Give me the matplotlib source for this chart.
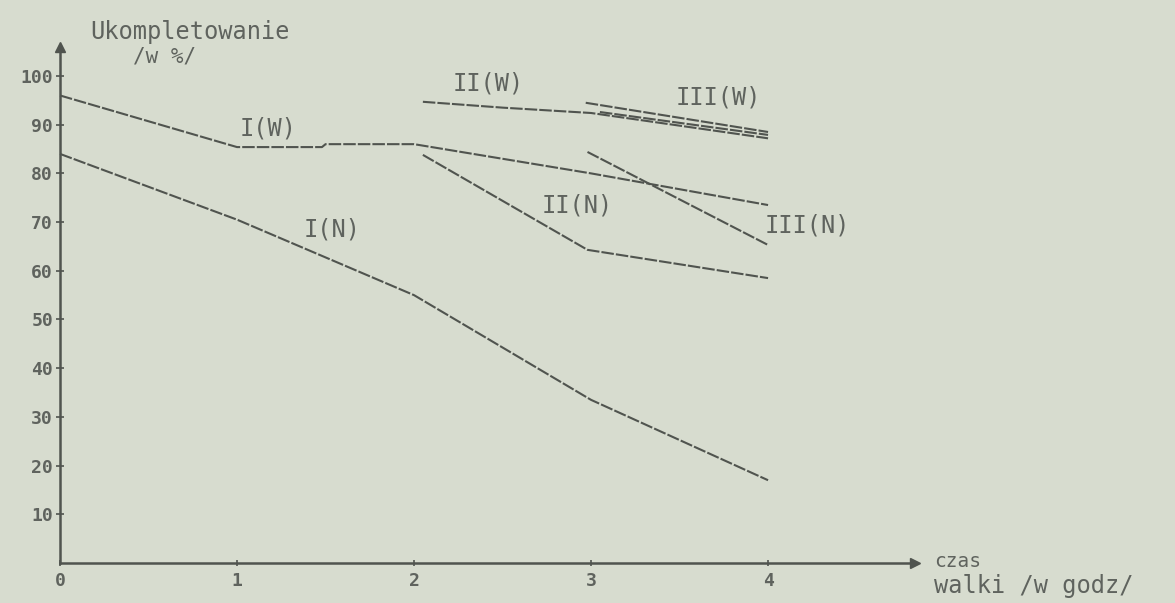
import matplotlib
matplotlib.use('Agg')
import matplotlib.pyplot as plt

# data (x = czas walki in hours, y = ukompletowanie in %)
x_IW = [0, 1, 1.48, 1.5, 2, 3, 4]
y_IW = [96, 85.4, 85.4, 86, 86, 80, 73.5]

x_IN = [0, 1, 2, 3, 4]
y_IN = [84, 70.5, 55, 33.5, 17]

x_IIW = [2.05, 2.5, 3.0, 4]
y_IIW = [94.7, 93.5, 92.4, 87.2]

x_IIN = [2.05, 2.98, 4]
y_IIN = [83.8, 64.3, 58.5]

x_IIIW = [2.97, 4]
y_IIIW = [94.5, 88.5]
x_IIIW2 = [3.05, 4]
y_IIIW2 = [92.6, 87.9]

x_IIIN = [2.98, 4]
y_IIIN = [84.4, 65.3]

yticks = [10, 20, 30, 40, 50, 60, 70, 80, 90, 100]
xticks = [0, 1, 2, 3, 4]

bg = '#d7dccf'
ink = '#50544f'
txt = '#5f635e'
mono = 'DejaVu Sans Mono'

fig = plt.figure(figsize=(11.75, 6.03), dpi=100)
fig.patch.set_facecolor(bg)
ax = fig.add_axes([0, 0, 1, 1])
ax.set_facecolor(bg)
ax.set_xlim(-0.339, 6.299)
ax.set_ylim(-8.21, 115.6)

ls = (0, (6, 1))
for xs, ys in [(x_IW, y_IW), (x_IN, y_IN), (x_IIW, y_IIW), (x_IIN, y_IIN),
               (x_IIIW, y_IIIW), (x_IIIW2, y_IIIW2), (x_IIIN, y_IIIN)]:
    ax.plot(xs, ys, color=ink, lw=1.5, ls=ls)

# axes with arrows
for s in ['top', 'right']:
    ax.spines[s].set_visible(False)
ax.spines['left'].set_position(('data', 0))
ax.spines['bottom'].set_position(('data', 0))
ax.spines['left'].set_bounds(0, 106)
ax.spines['bottom'].set_bounds(0, 4.83)
for s in ['left', 'bottom']:
    ax.spines[s].set_color(ink)
    ax.spines[s].set_linewidth(1.8)
ax.plot([0], [106], marker='^', color=ink, ms=7, clip_on=False)
ax.plot([4.83], [0], marker='>', color=ink, ms=7, clip_on=False)

ax.set_yticks(yticks)
ax.set_yticklabels([str(v) for v in yticks])
ax.set_xticks(xticks)
ax.set_xticklabels([str(v) for v in xticks])
ax.tick_params(axis='y', direction='inout', length=6, width=1.2, colors=ink,
               labelcolor=txt, labelsize=13, pad=2)
ax.tick_params(axis='x', direction='inout', length=5, width=1.2, colors=ink,
               labelcolor=txt, labelsize=13, pad=4)
for lab in ax.get_xticklabels() + ax.get_yticklabels():
    lab.set_family(mono)
    lab.set_fontweight('bold')

ax.text(0.17, 109, 'Ukompletowanie', family=mono, fontsize=17, color=txt, va='center')
ax.text(0.41, 104, '/w %/', family=mono, fontsize=15, color=txt, va='center')

lab_kw = dict(family=mono, fontsize=17, color=txt, ha='center', va='center')
ax.text(1.175, 89.3, 'I(W)', **lab_kw)
ax.text(2.42, 98.4, 'II(W)', **lab_kw)
ax.text(3.72, 95.5, 'III(W)', **lab_kw)
ax.text(2.92, 73.5, 'II(N)', **lab_kw)
ax.text(4.22, 69.4, 'III(N)', **lab_kw)
ax.text(1.54, 68.4, 'I(N)', **lab_kw)

ax.text(4.94, 0.4, 'czas', family=mono, fontsize=14, color=txt, va='center')
ax.text(4.94, -4.8, 'walki /w godz/', family=mono, fontsize=17, color=txt, va='center')

fig.savefig('out.png', dpi=100, facecolor=bg)
